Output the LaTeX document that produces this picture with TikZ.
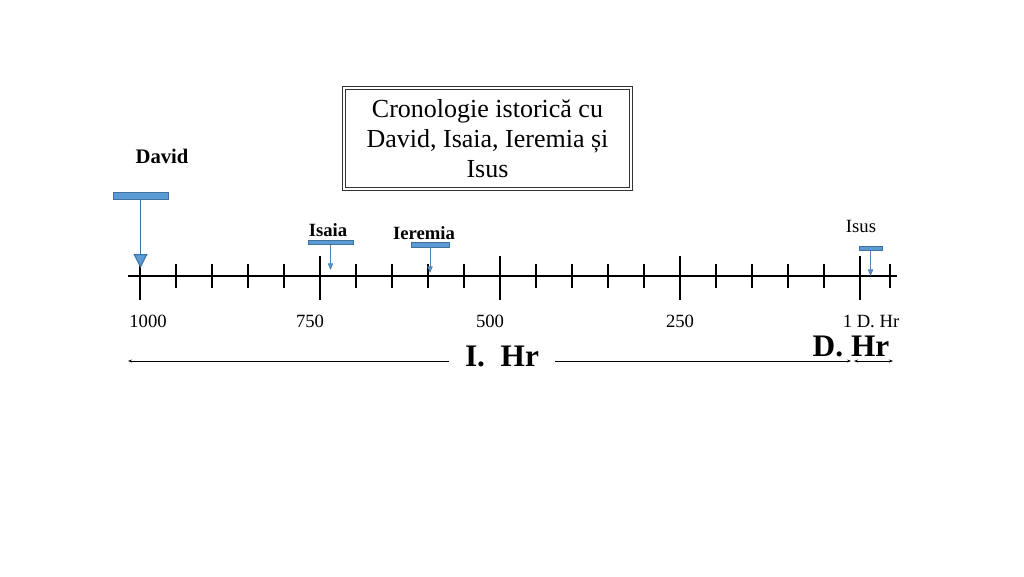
\documentclass[tikz,border=0pt]{standalone}
\usepackage{fontspec}
\setmainfont{Liberation Serif}
\usetikzlibrary{arrows.meta}
\definecolor{barblue}{HTML}{5B9BD5}
\definecolor{bardark}{HTML}{41719C}
\begin{document}
\begin{tikzpicture}[x=0.75pt,y=-0.75pt,
  ax/.style={line width=1.1pt, black},
  bar/.style={rectangle, fill=barblue, draw=bardark, line width=0.5pt, inner sep=0pt},
  bigptr/.style={draw=bardark, line width=0.8pt, -{Triangle[length=10.5pt,width=10.5pt,fill=barblue]}},
  ptr/.style={draw=bardark!60!barblue, line width=0.7pt, -{Triangle[length=5pt,width=4pt,fill=barblue]}},
  lbl/.style={inner sep=0pt, font=\fontsize{14}{16}\selectfont},
  blbl/.style={inner sep=0pt, font=\bfseries\fontsize{14}{16}\selectfont},
  era/.style={inner sep=0pt, font=\bfseries\fontsize{23.5}{26}\selectfont},
  span/.style={line width=0.6pt, {Stealth[length=3pt,width=2.2pt]}-{Stealth[length=3pt,width=2.2pt]}}
]
\useasboundingbox (0,0) rectangle (1024,576);
\fill[white] (0,0) rectangle (1024,576);

% title
\node[draw=black!80, double=white, double distance=1.1pt, line width=0.9pt,
      minimum width=215pt, minimum height=76pt, align=center, inner sep=0pt,
      font=\fontsize{19.5}{22.5}\selectfont] (title) at (487.5,138.5)
  {Cronologie istorică cu\\David, Isaia, Ieremia și\\Isus};

% axis
\coordinate (axL) at (128,276);
\coordinate (axR) at (897,276);
\draw[ax] (axL) -- (axR);
\foreach \x in {140,320,500,680,860} \draw[ax] (\x,256) -- (\x,300);
\foreach \x in {176,212,248,284,356,392,428,464,536,572,608,644,716,752,788,824,890}
  \draw[ax] (\x,264) -- (\x,288);

% tick labels
\node[lbl] (l1000) at (148,321) {1000};
\node[lbl] (l750) at (310,321) {750};
\node[lbl] (l500) at (490,321) {500};
\node[lbl] (l250) at (680,321) {250};
\node[lbl] (l1) at (871,321) {1 D. Hr};

% David
\node[inner sep=0pt, font=\bfseries\fontsize{15.5}{18}\selectfont] (david) at (162,156) {David};
\node[bar, minimum width=41.25pt, minimum height=5.25pt] (davidbar) at (140.5,195.5) {};
\coordinate (davidtip) at (140.5,268);
\draw[bigptr] (davidbar.south) -- (davidtip);

% Isaia
\node[blbl] (isaia) at (328,230) {Isaia};
\node[bar, minimum width=33.75pt, minimum height=3pt] (isaiabar) at (330.5,242.5) {};
\coordinate (isaiatip) at (330.5,270);
\draw[ptr] (isaiabar.south) -- (isaiatip);

% Ieremia
\node[blbl] (ieremia) at (424,233) {Ieremia};
\node[bar, minimum width=28.5pt, minimum height=3.75pt] (ieremiabar) at (430,244.5) {};
\coordinate (ieremiatip) at (430,273);
\draw[ptr] (ieremiabar.south) -- (ieremiatip);

% Isus
\node[lbl] (isus) at (861,226) {Isus};
\node[bar, minimum width=17.25pt, minimum height=3pt] (isusbar) at (870.5,248) {};
\coordinate (isustip) at (870.5,276);
\draw[ptr] (isusbar.south) -- (isustip);

% eras
\coordinate (bL) at (128,361);
\coordinate (bR) at (851,361);
\coordinate (dL) at (854,361);
\coordinate (dR) at (893,361);
\draw[span] (bL) -- (bR);
\draw[span] (dL) -- (dR);
\node[era, fill=white, inner xsep=12pt, inner ysep=2pt] (ihr) at (502,356) {I.\ \ Hr};
\node[era] (dhr) at (851,346) {D. Hr};
\end{tikzpicture}
\end{document}
